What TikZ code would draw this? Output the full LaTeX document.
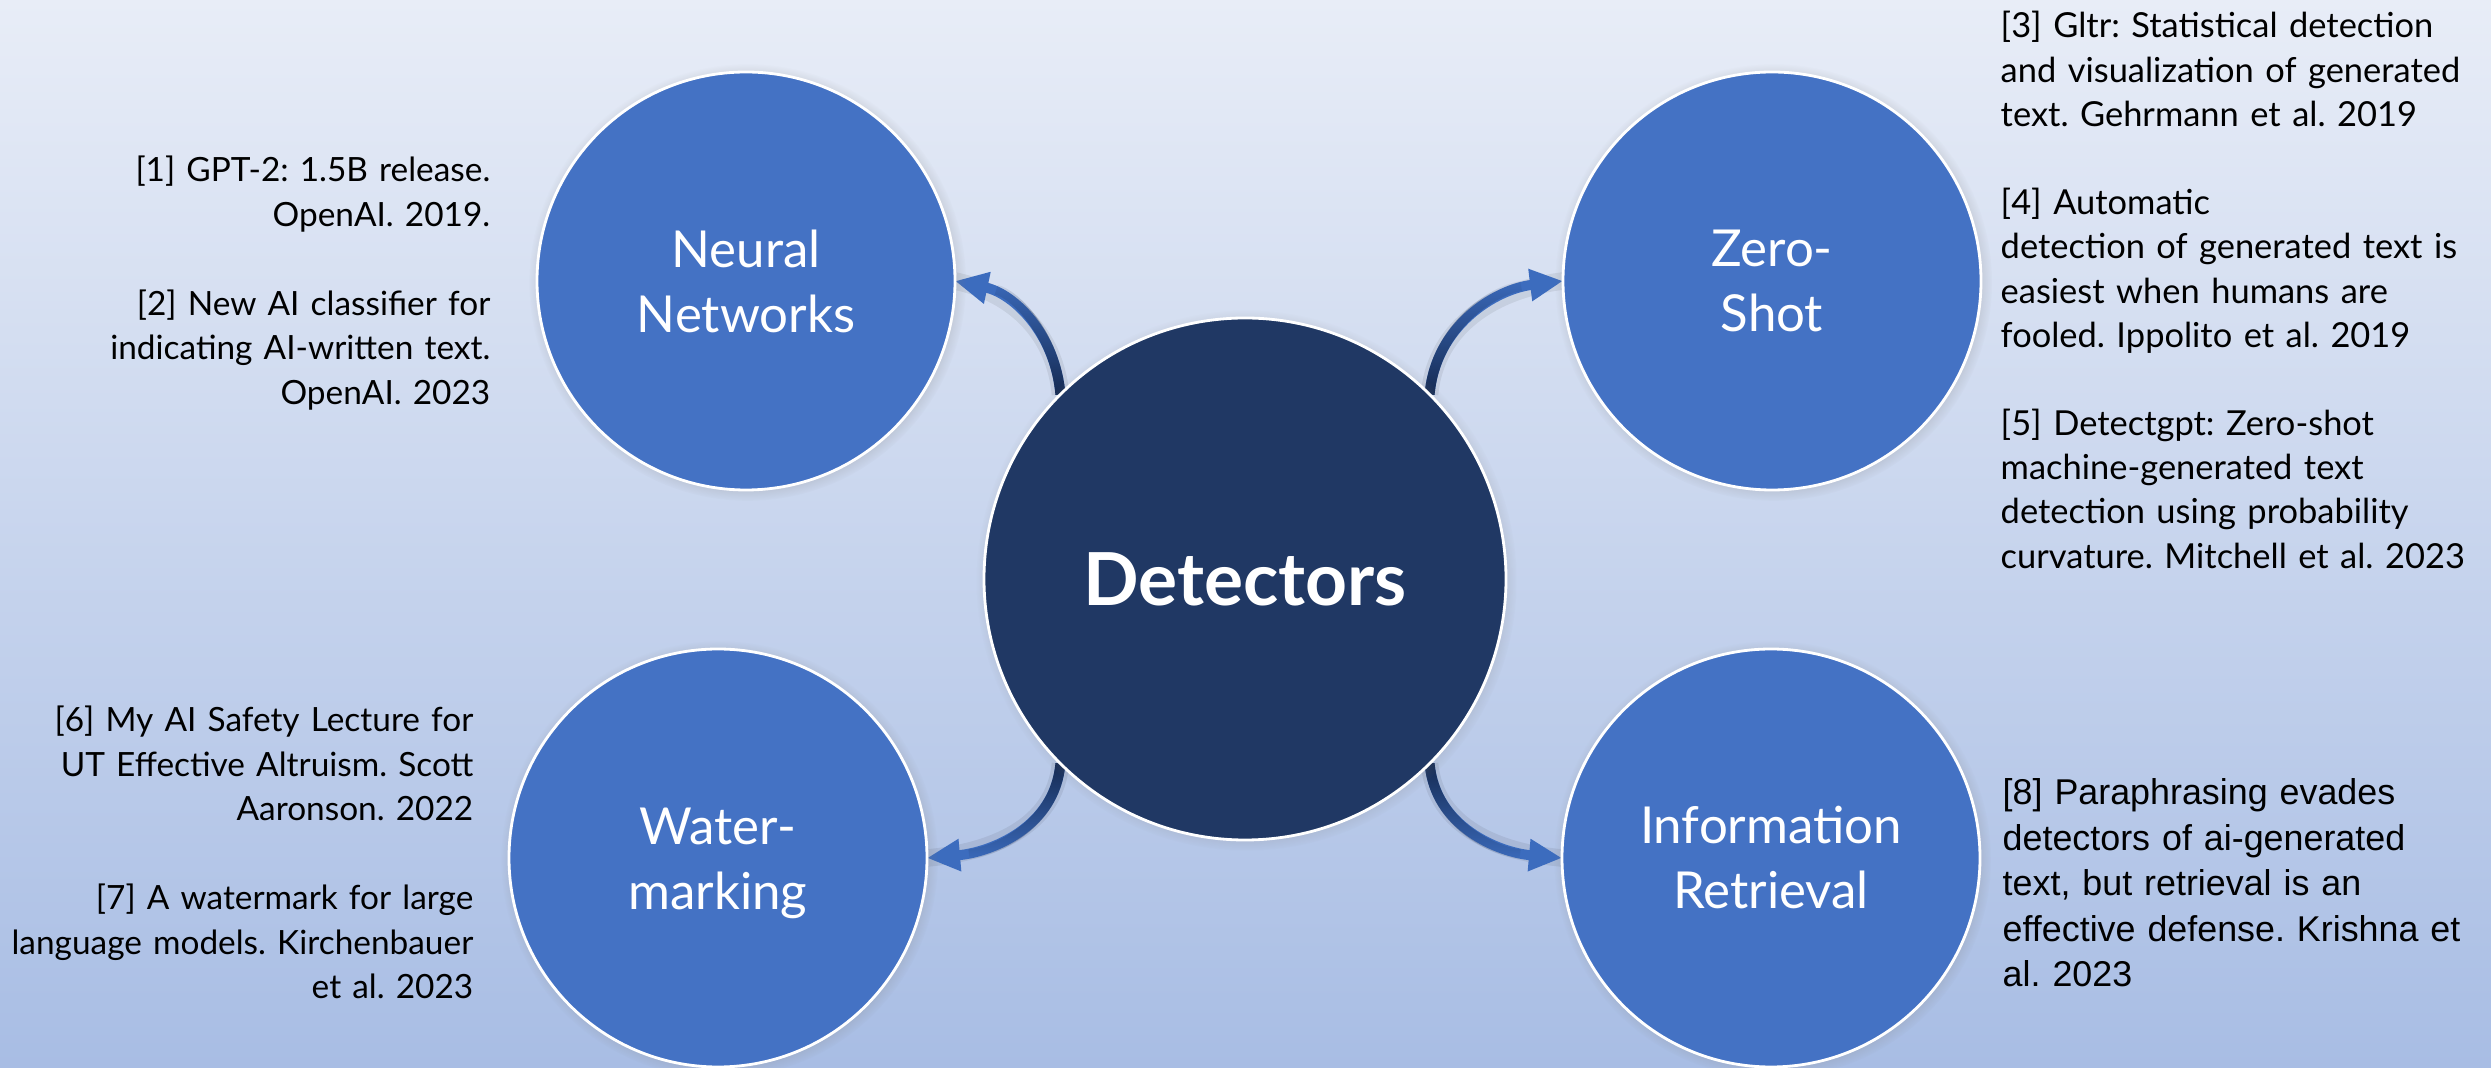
\documentclass[tikz,border=0pt]{standalone}
\usepackage{fontspec}
\setmainfont{Lato}
\newfontfamily\plainsans{Liberation Sans}
\usetikzlibrary{arrows.meta,shadows,fadings}
\frenchspacing

\definecolor{bgtop}{RGB}{232,237,247}
\definecolor{bgbot}{RGB}{168,189,228}
\definecolor{satfill}{RGB}{68,114,196}
\definecolor{hubfill}{RGB}{32,56,100}
\definecolor{arrowblue}{RGB}{60,108,190}
\definecolor{arrowdark}{RGB}{20,40,78}

% dark tint at the root of each curved arrow
\tikzfading[name=darkbelow, top color=transparent!100, middle color=transparent!100, bottom color=transparent!0]
\tikzfading[name=darkabove, top color=transparent!0, middle color=transparent!100, bottom color=transparent!100]

\pgfdeclarelayer{bg}
\pgfdeclarelayer{links}
\pgfsetlayers{bg,links,main}

\begin{document}
\begin{tikzpicture}[
  hub/.style={circle, minimum size=5.22cm, inner sep=0pt, outer sep=0pt,
    fill=hubfill, draw=white, line width=0.8pt,
    circular drop shadow={shadow xshift=0.4pt, shadow yshift=-0.4pt, shadow scale=1.035, opacity=0.55}},
  sat/.style={circle, minimum size=4.18cm, inner sep=0pt, outer sep=0pt,
    fill=satfill, draw=white, line width=0.8pt,
    circular drop shadow={shadow xshift=0.4pt, shadow yshift=-0.4pt, shadow scale=1.045, opacity=0.55}},
  satlabel/.style={text=white, align=center, inner sep=0pt,
    font=\fontsize{14.5}{18.5}\selectfont},
  hublabel/.style={text=white, inner sep=0pt, font=\bfseries\fontsize{20.8}{25}\selectfont},
  refright/.style={inner sep=0pt, text width=6cm, align=right,
    font=\fontsize{9.5}{12.65}\selectfont},
  refleft/.style={inner sep=0pt, text width=5cm, align=left,
    font=\fontsize{9.8}{12.57}\selectfont},
  refarial/.style={inner sep=0pt, text width=5cm, align=left,
    font=\plainsans\fontsize{10.2}{12.9}\selectfont},
  link/.style={line width=2.85pt, draw=arrowblue, -{Triangle[length=9.4pt,width=8.6pt]}},
  linkhalo/.style={line width=5pt, draw=black, opacity=0.07},
  linkroot/.style={line width=2.85pt, draw=arrowdark, shorten >=12pt},
]
\useasboundingbox (0,0) rectangle (24.91,10.68);
\begin{pgfonlayer}{bg}
  \shade[top color=bgtop, bottom color=bgbot] (0,0) rectangle (24.91,10.68);
\end{pgfonlayer}

% circles
\node[hub] (hub) at (12.45,4.89) {};
\node[sat] (nn) at (7.46,7.87) {};
\node[sat] (zs) at (17.72,7.87) {};
\node[sat] (wm) at (7.18,2.10) {};
\node[sat] (ir) at (17.71,2.10) {};

\node[hublabel] (hubt) at (hub) {Detectors};
\node[satlabel] (nnt) at (nn) {Neural\\Networks};
\node[satlabel] (zst) at (zs) {Zero-\\Shot};
\node[satlabel, yshift=-0.05cm] (wmt) at (wm) {Water-\\marking};
\node[satlabel] (irt) at (ir) {Information\\Retrieval};

% curved arrows from the hub to each family
\begin{pgfonlayer}{links}
  \draw[linkhalo] (hub.135) to[out=95,in=-12] (nn.east);
  \draw[link] (hub.135) to[out=95,in=-12] (nn.east);
  \draw[linkroot, path fading=darkbelow] (hub.135) to[out=95,in=-12] (nn.east);

  \draw[linkhalo] (hub.45) to[out=85,in=187] (zs.west);
  \draw[link] (hub.45) to[out=85,in=187] (zs.west);
  \draw[linkroot, path fading=darkbelow] (hub.45) to[out=85,in=187] (zs.west);

  \draw[linkhalo] (hub.225) to[out=-95,in=5] (wm.east);
  \draw[link] (hub.225) to[out=-95,in=5] (wm.east);
  \draw[linkroot, path fading=darkabove] (hub.225) to[out=-95,in=5] (wm.east);

  \draw[linkhalo] (hub.315) to[out=-85,in=175] (ir.west);
  \draw[link] (hub.315) to[out=-85,in=175] (ir.west);
  \draw[linkroot, path fading=darkabove] (hub.315) to[out=-85,in=175] (ir.west);
\end{pgfonlayer}

% references
\node[refright, anchor=base east] (refnn) at (4.91,8.86)
  {[1] GPT-2: 1.5B release.\\OpenAI. 2019.\\[12.65pt]{[2]} New AI classifier for\\indicating AI-written text.\\OpenAI. 2023};
\node[refleft, anchor=base west] (refzs) at (20.00,10.30)
  {[3] Gltr: Statistical detection\\and visualization of generated\\text. Gehrmann et al. 2019\\[12.57pt]{[4]} Automatic\\detection of generated text is\\easiest when humans are\\fooled. Ippolito et al. 2019\\[12.57pt]{[5]} Detectgpt: Zero-shot\\machine-generated text\\detection using probability\\curvature. Mitchell et al. 2023};
\node[refright, anchor=base east] (refwm) at (4.74,3.36)
  {[6] My AI Safety Lecture for\\UT Effective Altruism. Scott\\Aaronson. 2022\\[12.65pt]{[7]} A watermark for large\\language models. Kirchenbauer\\et al. 2023};
\node[refarial, anchor=base west] (refir) at (20.02,2.63)
  {[8] Paraphrasing evades\\detectors of ai-generated\\text, but retrieval is an\\effective defense. Krishna et\\al. 2023};
\end{tikzpicture}
\end{document}
